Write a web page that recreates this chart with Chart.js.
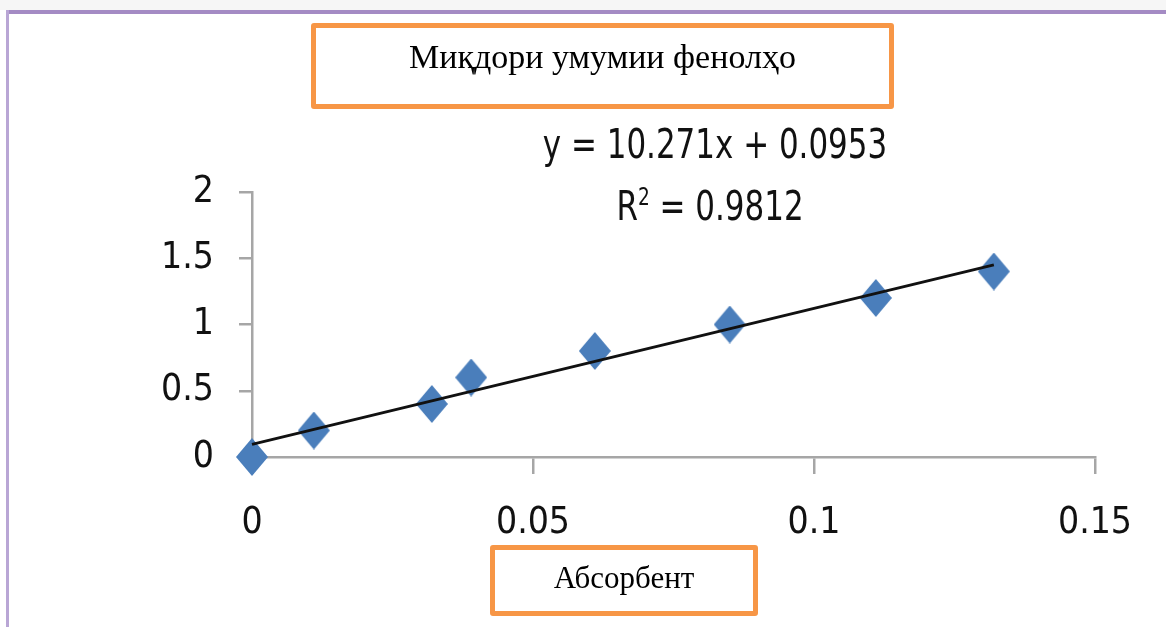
<!DOCTYPE html>
<html>
<head>
<meta charset="utf-8">
<script src="https://cdn.jsdelivr.net/npm/chart.js@4/dist/chart.umd.min.js"></script>
<style>
html,body{margin:0;padding:0;background:#fff;}
#wrap{position:relative;width:1166px;height:627px;overflow:hidden;background:#fff;}
#chart{position:absolute;left:0;top:0;}
.topstrip{position:absolute;left:0;top:0;width:1166px;height:10px;background:#f6f6f6;}
.frame-top{position:absolute;left:6px;top:10px;width:1160px;height:4px;background:#a48bc4;}
.frame-left{position:absolute;left:6px;top:10px;width:3px;height:617px;background:#b9a6d5;}
.box{position:absolute;border:5px solid #f79646;border-radius:3px;box-sizing:border-box;
     font-family:'Liberation Serif','Times New Roman',serif;color:#000;text-align:center;white-space:nowrap;}
#titleBox{left:311px;top:23px;width:583px;height:86px;font-size:34px;line-height:34px;padding-top:12px;}
#xTitleBox{left:490px;top:545px;width:268px;height:71px;font-size:31px;line-height:31px;padding-top:12px;}
.eq{position:absolute;font-family:'Liberation Sans Narrow','DejaVu Sans Condensed',sans-serif;
    font-size:40px;line-height:40px;color:#111;white-space:nowrap;
    transform:translateX(-50%) scaleX(0.86);transform-origin:center;}
.eq sup{font-size:24px;vertical-align:15px;line-height:0;}
</style>
</head>
<body>
<div id="wrap">
  <canvas id="chart" width="1166" height="627"></canvas>
  <div class="topstrip"></div>
  <div class="frame-top"></div>
  <div class="frame-left"></div>
  <div class="box" id="titleBox">Миқдори умумии фенолҳо</div>
  <div class="eq" style="left:715px;top:124px;">y = 10.271x + 0.0953</div>
  <div class="eq" style="left:710px;top:186px;">R<sup>2</sup> = 0.9812</div>
  <div class="box" id="xTitleBox">Абсорбент</div>
</div>
<script>
// ---- data ----
const xValues = [0, 0.011, 0.032, 0.039, 0.061, 0.085, 0.111, 0.132];
const yValues = [0, 0.2, 0.4, 0.6, 0.8, 1.0, 1.2, 1.4];
const trendX = [0, 0.132];
const trendY = [0.095, 1.45];
const xTicks = [0, 0.05, 0.1, 0.15];
const xTickLabels = ['0', '0.05', '0.1', '0.15'];
const yTicks = [0, 0.5, 1, 1.5, 2];
const yTickLabels = ['0', '0.5', '1', '1.5', '2'];

const FONT = "'Liberation Sans Narrow','DejaVu Sans Condensed',sans-serif";
const AXIS = '#a6a6a6';
const TXT = '#111';

function diamond(w, h, color) {
  const c = document.createElement('canvas');
  c.width = w; c.height = h;
  const g = c.getContext('2d');
  g.fillStyle = color;
  g.beginPath();
  g.moveTo(w / 2, 0); g.lineTo(w, h / 2); g.lineTo(w / 2, h); g.lineTo(0, h / 2);
  g.closePath(); g.fill();
  return c;
}

const points = xValues.map((x, i) => ({x: x, y: yValues[i]}));
const trend = trendX.map((x, i) => ({x: x, y: trendY[i]}));

new Chart(document.getElementById('chart'), {
  type: 'scatter',
  data: {
    datasets: [
      {
        label: 'Trend',
        data: trend,
        showLine: true,
        borderColor: '#111',
        borderWidth: 3,
        pointRadius: 0,
        fill: false,
        order: 0,
        clip: false
      },
      {
        label: 'Data',
        data: points,
        pointStyle: diamond(32, 38, '#4a7ebb'),
        backgroundColor: '#4a7ebb',
        borderColor: '#4a7ebb',
        order: 1,
        clip: false
      }
    ]
  },
  options: {
    responsive: false,
    devicePixelRatio: 1,
    animation: false,
    layout: {padding: {left: 0, top: 192, right: 71, bottom: 0}},
    plugins: {legend: {display: false}, tooltip: {enabled: false}, title: {display: false}},
    scales: {
      x: {
        type: 'linear', min: 0, max: 0.15,
        afterBuildTicks: s => { s.ticks = xTicks.map(v => ({value: v})); },
        afterFit: s => { s.height = 627 - 457; },
        ticks: {callback: (v, i) => xTickLabels[i], font: {family: FONT, size: 37}, color: TXT,
                padding: 27, maxRotation: 0, autoSkip: false},
        grid: {drawOnChartArea: false, drawTicks: true, tickLength: 17, color: AXIS, lineWidth: 2.5},
        border: {display: true, color: AXIS, width: 2.5}
      },
      y: {
        type: 'linear', min: 0, max: 2,
        afterBuildTicks: s => { s.ticks = yTicks.map(v => ({value: v})); },
        afterFit: s => { s.width = 252; },
        ticks: {callback: (v, i) => yTickLabels[i], font: {family: FONT, size: 37}, color: TXT,
                padding: 25, autoSkip: false},
        grid: {drawOnChartArea: false, drawTicks: true, tickLength: 13, color: AXIS, lineWidth: 2.5},
        border: {display: true, color: AXIS, width: 2.5}
      }
    }
  }
});
</script>
</body>
</html>
